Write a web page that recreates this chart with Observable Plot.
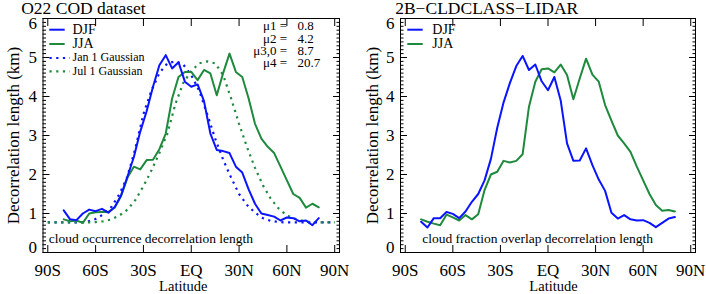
<!DOCTYPE html>
<html><head><meta charset="utf-8">
<script src="https://cdn.jsdelivr.net/npm/d3@7"></script>
<script src="https://cdn.jsdelivr.net/npm/@observablehq/plot@0.6"></script>
<style>
body{margin:0;background:#fff;}
#wrap{display:flex;width:706px;height:294px;background:#fff;}
</style></head><body><div id="wrap"></div>
<script>
// ---- data ----
const lat = [-80,-76,-72,-68,-64,-60,-56,-52,-48,-44,-40,-36,-32,-28,-24,-20,-16,-12,-8,-4,0,4,8,12,16,20,24,28,32,36,40,44,48,52,56,60,64,68,72,76,80];
const codDJF = [1.08,0.85,0.83,1.0,1.1,1.06,1.12,1.02,1.17,1.47, 1.95,2.45,3.1,3.62,4.25,4.8,5.06,4.72,4.88,4.38, 4.25,4.31,3.88,3.05,2.63,2.6,2.55,2.2,2.05,1.62, 1.25,1.0,0.96,0.92,0.82,0.9,0.88,0.8,0.82,0.7, 0.88];
const codJJA = [0.85,0.8,0.82,0.76,1.0,1.03,1.04,1.04,1.15,1.45, 1.92,2.2,2.13,2.37,2.38,2.65,3.05,3.95,4.5,4.63, 4.63,4.42,4.68,4.59,4.03,4.6,5.1,4.63,4.5,3.95, 3.3,2.92,2.71,2.55,2.2,1.85,1.5,1.4,1.15,1.25, 1.16];
const gaussLat = [-90,-85,-80,-75,-70,-65,-60,-55,-50,-45,-40,-35,-30,-25,-20,-15,-10,-5,0,5,10,15,20,25,30,35,40,45,50,55,60,65,70,75,80,85,90];
const janGauss = [0.77,0.77,0.77,0.77,0.77,0.79,0.86,0.98,1.17,1.5, 1.95,2.68,3.55,4.15,4.6,4.85,4.9,4.82,4.55,4.15, 3.55,2.92,2.38,1.92,1.5,1.22,1.02,0.88,0.81,0.78, 0.77,0.77,0.77,0.77,0.77,0.77,0.77];
const julGauss = [0.77,0.77,0.77,0.77,0.77,0.77,0.78,0.8,0.85,0.95, 1.1,1.35,1.7,2.1,2.55,3.05,3.8,4.35,4.65,4.85, 4.9,4.85,4.55,3.95,3.3,2.7,2.17,1.72,1.37,1.12, 0.95,0.87,0.81,0.78,0.77,0.77,0.77];
const lidarDJF = [0.79,0.64,0.88,0.88,1.04,0.99,0.88,1.05,1.3,1.5, 1.85,2.4,3.2,3.85,4.35,4.78,5.04,4.68,4.82,4.39, 4.16,4.5,3.9,2.8,2.35,2.36,2.67,2.24,1.87,1.58, 1.02,0.87,0.96,0.85,0.82,0.83,0.76,0.65,0.76,0.87, 0.91];
const lidarJJA = [0.85,0.79,0.74,0.7,0.97,0.9,0.82,0.96,0.85,0.98, 1.6,2.0,2.07,2.35,2.31,2.35,2.52,3.74,4.38,4.7, 4.72,4.62,4.82,4.55,3.93,4.46,4.97,4.56,4.38,3.78, 3.38,3.0,2.8,2.58,2.2,1.85,1.5,1.22,1.07,1.09, 1.05];
const xTickValues = [-90,-60,-30,0,30,60,90];
const xTickLabels = ["90S","60S","30S","EQ","30N","60N","90N"];
const yTicks = [0,1,2,3,4,5,6];
const yMinor = d3.range(0, 60).map(i => i / 10).filter(v => Math.abs(v - Math.round(v)) > 1e-9);
const muLabels = ["\u03bc1","\u03bc2","\u03bc3,0","\u03bc4"];
const muValues = ["0.8","4.2","8.7","20.7"];

const BLUE = "#0a14ff";
const GREEN = "#1f8a3e";
const FONT = "'Liberation Serif', 'Times New Roman', serif";
const DOTS = "2.2,4.5";

const table = (xs, ys) => xs.map((x, i) => ({lat: x, v: ys[i]}));
const yInner = yTicks.slice(1, -1);
const yTop = yTicks.slice(-1);
const yBottom = yTicks.slice(0, 1);

function panel({marginLeft, marginRight, title, titleDx, note, noteDx, latDx, ylabDx, series, extra = []}) {
  const svg = Plot.plot({
    width: 353, height: 294,
    marginLeft, marginRight, marginTop: 18, marginBottom: 42,
    x: {domain: [-93, 93]},
    y: {domain: [0, 6]},
    style: {fontFamily: FONT, fontSize: "17px", background: "white", color: "black", overflow: "visible"},
    marks: [
      Plot.frame({stroke: "black", strokeWidth: 1}),
      Plot.axisY(yInner, {anchor: "left", tickSize: 0, tickPadding: 6, label: null}),
      Plot.axisY(yTop, {anchor: "left", tickSize: 0, tickPadding: 6, dy: 5, label: null}),
      Plot.axisY(yBottom, {anchor: "left", tickSize: 0, tickPadding: 6, dy: -5, label: null}),
      Plot.axisY(yTicks, {anchor: "left", tickSize: -7, tickFormat: () => "", label: null}),
      Plot.axisY(yMinor, {anchor: "left", tickSize: -3.5, tickFormat: () => "", label: null}),
      Plot.axisY(yTicks, {anchor: "right", tickSize: -7, tickFormat: () => "", label: null}),
      Plot.axisY(yMinor, {anchor: "right", tickSize: -3.5, tickFormat: () => "", label: null}),
      Plot.axisX(xTickValues, {anchor: "bottom", tickSize: 0, tickPadding: 11, tickFormat: d => xTickLabels[xTickValues.indexOf(d)], label: null}),
      Plot.axisX(xTickValues, {anchor: "bottom", tickSize: -7, tickFormat: () => "", label: null}),
      Plot.axisX(xTickValues, {anchor: "top", tickSize: -7, tickFormat: () => "", label: null}),
      ...series.map(s => Plot.line(table(s.x, s.y), {x: "lat", y: "v", stroke: s.color, strokeWidth: s.dotted ? 2.2 : 2, strokeDasharray: s.dotted ? DOTS : null, strokeLinecap: s.dotted ? "butt" : "round"})),
      Plot.text([title], {text: d => d, frameAnchor: "top-left", dx: titleDx, dy: -4.5, lineAnchor: "bottom", textAnchor: "start", fontSize: 17.5}),
      Plot.text([note], {text: d => d, frameAnchor: "bottom-left", dx: noteDx, dy: -10, lineAnchor: "bottom", textAnchor: "start", fontSize: 13.5}),
      Plot.text(["Latitude"], {text: d => d, frameAnchor: "bottom", dx: latDx, dy: 38.5, lineAnchor: "bottom", textAnchor: "middle", fontSize: 14.5}),
      Plot.text(["Decorrelation length (km)"], {text: d => d, frameAnchor: "left", dx: ylabDx, rotate: -90, lineAnchor: "middle", textAnchor: "middle", fontSize: 17}),
      ...extra
    ]
  });
  return svg;
}

function addLegend(svg, items) {
  const g = d3.select(svg).append("g").attr("font-family", FONT).attr("text-anchor", "start");
  for (const it of items) {
    g.append("line").attr("x1", it.x1).attr("x2", it.x2).attr("y1", it.y).attr("y2", it.y)
      .attr("stroke", it.color).attr("stroke-width", it.dotted ? 2.2 : 2)
      .attr("stroke-dasharray", it.dotted ? DOTS : null);
    g.append("text").attr("x", it.tx).attr("y", it.ty).attr("font-size", it.fs).attr("fill", "black").attr("text-anchor", "start").text(it.label);
  }
}

const muBaselineDy = [11.5, 24, 36.5, 48.5];
const muMarks = [];
muLabels.forEach((lab, i) => {
  muMarks.push(Plot.text([lab], {text: d => d, frameAnchor: "top-right", dx: -63, dy: muBaselineDy[i], lineAnchor: "bottom", textAnchor: "end", fontSize: 13}));
  muMarks.push(Plot.text(["="], {text: d => d, frameAnchor: "top-right", dx: -56, dy: muBaselineDy[i], lineAnchor: "bottom", textAnchor: "middle", fontSize: 13}));
  muMarks.push(Plot.text([muValues[i]], {text: d => d, frameAnchor: "top-right", dx: -42, dy: muBaselineDy[i], lineAnchor: "bottom", textAnchor: "start", fontSize: 13}));
});

const left = panel({
  marginLeft: 42.5, marginRight: 14,
  title: "O22 COD dataset", titleDx: -21.8,
  note: "cloud occurrence decorrelation length", noteDx: 5.8,
  latDx: -8, ylabDx: -29,
  series: [
    {x: gaussLat, y: janGauss, color: BLUE, dotted: true},
    {x: gaussLat, y: julGauss, color: GREEN, dotted: true},
    {x: lat, y: codJJA, color: GREEN},
    {x: lat, y: codDJF, color: BLUE}
  ],
  extra: muMarks
});
addLegend(left, [
  {x1: 49.3, x2: 64.7, y: 29.7, color: BLUE, tx: 72.5, ty: 33.5, fs: 14, label: "DJF"},
  {x1: 49.3, x2: 64.7, y: 44, color: GREEN, tx: 72.5, ty: 48, fs: 14, label: "JJA"},
  {x1: 49.5, x2: 70, y: 58, color: BLUE, dotted: true, tx: 72.5, ty: 61.3, fs: 12, label: "Jan 1 Gaussian"},
  {x1: 49.5, x2: 70, y: 71.3, color: GREEN, dotted: true, tx: 72.5, ty: 74.8, fs: 12, label: "Jul 1 Gaussian"}
]);

const right = panel({
  marginLeft: 47, marginRight: 11,
  title: "2B\u2212CLDCLASS\u2212LIDAR", titleDx: -5.3,
  note: "cloud fraction overlap decorrelation length", noteDx: 21.7,
  latDx: 5.5, ylabDx: -28.3,
  series: [
    {x: lat, y: lidarJJA, color: GREEN},
    {x: lat, y: lidarDJF, color: BLUE}
  ]
});
addLegend(right, [
  {x1: 54.3, x2: 69.7, y: 29.7, color: BLUE, tx: 79.3, ty: 33.5, fs: 14, label: "DJF"},
  {x1: 54.3, x2: 69.7, y: 44, color: GREEN, tx: 79.3, ty: 48, fs: 14, label: "JJA"}
]);

document.getElementById("wrap").append(left, right);
</script></body></html>
